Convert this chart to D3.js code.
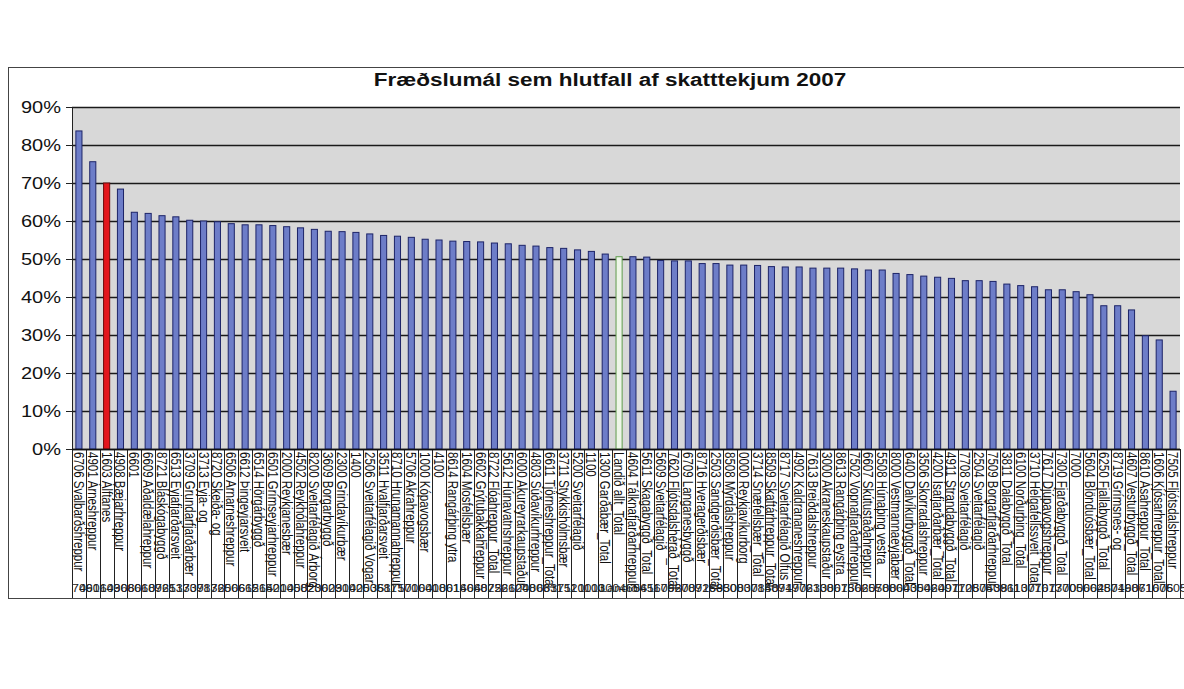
<!DOCTYPE html>
<html>
<head>
<meta charset="UTF-8" />
<script src="https://d3js.org/d3.v7.min.js"></script>
<style>
  body { margin: 0; background: #fff; }
  text { font-family: "Liberation Sans", Arial, sans-serif; fill: #111; }
</style>
</head>
<body>
<script>

var title = "Fræðslumál sem hlutfall af skatttekjum 2007";

var categories = [
  "6706 Svalbarðshreppur", "4901 Árneshreppur", "1603 Álftanes", "4908 Bæjarhreppur",
  "6601", "6609 Aðaldælahreppur", "8721 Bláskógabyggð", "6513 Eyjafjarðarsveit",
  "3709 Grundarfjarðarbær", "3713 Eyja- og", "8720 Skeiða- og",
  "6506 Arnarneshreppur", "6612 Þingeyjarsveit", "6514 Hörgárbyggð", "6501 Grímseyjarhreppur",
  "2000 Reykjanesbær", "4502 Reykhólahreppur", "8200 Sveitarfélagið Árborg", "3609 Borgarbyggð",
  "2300 Grindavíkurbær", "1400", "2506 Sveitarfélagið Vogar", "3511 Hvalfjarðarsveit",
  "8710 Hrunamannahreppur", "5706 Akrahreppur", "1000 Kópavogsbær", "4100",
  "8614 Rangárþing ytra", "1604 Mosfellsbær", "6602 Grýtubakkahreppur", "8722 Flóahreppur_Total",
  "5612 Húnavatnshreppur", "6000 Akureyrarkaupstaður", "4803 Súðavíkurhreppur",
  "6611 Tjörneshreppur_Total", "3711 Stykkishólmsbær", "5200 Sveitarfélagið",
  "1100", "1300 Garðabær_Total", "Landið allt_Total", "4604 Tálknafjarðarhreppur",
  "5611 Skagabyggð_Total", "5609 Sveitarfélagið", "7620 Fljótsdalshérað_Total",
  "6709 Langanesbyggð", "8716 Hveragerðisbær", "2503 Sandgerðisbær_Total", "8508 Mýrdalshreppur",
  "0000 Reykjavíkurborg", "3714 Snæfellsbær_Total", "8509 Skaftárhreppur_Total",
  "8717 Sveitarfélagið Ölfus", "4902 Kaldrananeshreppur", "7613 Breiðdalshreppur",
  "3000 Akraneskaupstaður", "8613 Rangárþing eystra", "7502 Vopnafjarðarhreppur",
  "6607 Skútustaðahreppur", "5508 Húnaþing vestra", "8000 Vestmannaeyjabær",
  "6400 Dalvíkurbyggð_Total", "3506 Skorradalshreppur", "4200 Ísafjarðarbær_Total",
  "4911 Strandabyggð_Total", "7708 Sveitarfélagið", "2504 Sveitarfélagið",
  "7509 Borgarfjarðarhreppur", "3811 Dalabyggð_Total", "6100 Norðurþing_Total",
  "3710 Helgafellssveit_Total", "7617 Djúpavogshreppur", "7300 Fjarðabyggð_Total", "7000",
  "5604 Blönduósbær_Total", "6250 Fjallabyggð_Total", "8719 Grímsnes- og",
  "4607 Vesturbyggð_Total", "8610 Ásahreppur_Total", "1606 Kjósarhreppur_Total",
  "7505 Fljótsdalshreppur"
];

var values = [
  0.837, 0.756, 0.700, 0.684, 0.623, 0.620, 0.614, 0.611, 0.602, 0.600,
  0.598, 0.593, 0.590, 0.590, 0.588, 0.585, 0.582, 0.578, 0.573, 0.572,
  0.570, 0.566, 0.562, 0.560, 0.557, 0.552, 0.550, 0.547, 0.546, 0.545,
  0.542, 0.540, 0.536, 0.534, 0.530, 0.528, 0.524, 0.520, 0.513, 0.506,
  0.506, 0.505, 0.496, 0.495, 0.495, 0.488, 0.488, 0.484, 0.484, 0.483,
  0.480, 0.479, 0.479, 0.476, 0.476, 0.476, 0.474, 0.471, 0.471, 0.462,
  0.459, 0.455, 0.452, 0.449, 0.443, 0.443, 0.441, 0.434, 0.430, 0.427,
  0.419, 0.419, 0.414, 0.406, 0.377, 0.377, 0.366, 0.298, 0.287, 0.152
];

var yTicks = [0, 0.1, 0.2, 0.3, 0.4, 0.5, 0.6, 0.7, 0.8, 0.9];

// special bars
var highlight = { "1603 Álftanes": "red", "Landið allt_Total": "green" };

var width = 1184, height = 689;
var margin = { top: 107, right: 4, bottom: 240, left: 72 };
var labelBottom = 598;
var stretch = 1.25; // the scan is wider than tall

var svg = d3.select("body").append("svg")
  .attr("width", width)
  .attr("height", height);

// chart border
svg.append("rect")
  .attr("x", 8.5).attr("y", 67.5)
  .attr("width", width - 8).attr("height", labelBottom - 67)
  .attr("fill", "#fff")
  .attr("stroke", "#444");

svg.append("text")
  .attr("transform", "translate(610,86) scale(" + stretch + ",1)")
  .attr("text-anchor", "middle")
  .style("font-size", "18px")
  .style("font-weight", "bold")
  .text(title);

var x = d3.scaleBand()
  .domain(categories)
  .range([margin.left, width - margin.right])
  .paddingInner(0.56)
  .paddingOuter(0.28);

var y = d3.scaleLinear()
  .domain([0, 0.9])
  .range([height - margin.bottom, margin.top]);

// plot background
svg.append("rect")
  .attr("x", margin.left).attr("y", margin.top)
  .attr("width", width - margin.right - margin.left)
  .attr("height", y(0) - margin.top)
  .attr("fill", "#d8d8d8");

// gridlines
svg.append("g")
  .selectAll("line")
  .data(yTicks)
  .enter().append("line")
  .attr("x1", margin.left).attr("x2", width - margin.right)
  .attr("y1", function (d) { return Math.round(y(d)) + 0.5; })
  .attr("y2", function (d) { return Math.round(y(d)) + 0.5; })
  .attr("stroke", "#1a1a1a")
  .attr("stroke-width", 1.3);

// y axis
var yAxis = svg.append("g")
  .attr("transform", "translate(" + margin.left + ",0)")
  .call(d3.axisLeft(y).tickValues(yTicks).tickFormat(d3.format(".0%")).tickSize(6).tickPadding(5));
yAxis.selectAll("line, path").attr("stroke", "#222");
yAxis.selectAll("text")
  .style("font-size", "16px")
  .attr("fill", "#111")
  .attr("transform", function () {
    var tx = +d3.select(this).attr("x");
    return "translate(" + tx + ",0) scale(" + stretch + ",1) translate(" + (-tx) + ",0)";
  });

// bars
svg.append("g")
  .selectAll("rect")
  .data(categories)
  .enter().append("rect")
  .attr("x", function (d) { return x(d); })
  .attr("y", function (d, i) { return y(values[i]); })
  .attr("width", x.bandwidth())
  .attr("height", function (d, i) { return y(0) - y(values[i]); })
  .attr("fill", function (d) {
    if (highlight[d] === "red") return "#e3161c";
    if (highlight[d] === "green") return "#eef6e8";
    return "#6d7dc8";
  })
  .attr("stroke", function (d) {
    if (highlight[d] === "red") return "#6b0a0a";
    if (highlight[d] === "green") return "#5f9c4c";
    return "#1d2468";
  })
  .attr("stroke-width", 1);

// category table below axis
var step = x.step();

svg.append("defs").append("clipPath").attr("id", "labclip")
  .append("rect")
  .attr("x", margin.left).attr("y", y(0))
  .attr("width", width - margin.left).attr("height", labelBottom - y(0));

var table = svg.append("g").attr("clip-path", "url(#labclip)");

table.selectAll("line.sep")
  .data(categories.concat(["end"]))
  .enter().append("line")
  .attr("class", "sep")
  .attr("x1", function (d, i) { return Math.round(margin.left + i * step) + 0.5; })
  .attr("x2", function (d, i) { return Math.round(margin.left + i * step) + 0.5; })
  .attr("y1", y(0)).attr("y2", labelBottom)
  .attr("stroke", "#222");

table.selectAll("text.cat")
  .data(categories)
  .enter().append("text")
  .attr("class", "cat")
  .attr("transform", function (d) {
    var cx = x(d) + x.bandwidth() / 2 - 5;
    return "translate(" + cx + "," + (y(0) + 3) + ") rotate(90) scale(1," + stretch + ")";
  })
  .style("font-size", "11.5px")
  .text(function (d) { return d; });

// outer level row: municipality codes, squeezed together as in the print
table.selectAll("text.code")
  .data(categories)
  .enter().append("text")
  .attr("class", "code")
  .attr("transform", function (d) {
    var cx = x(d) + x.bandwidth() / 2;
    return "translate(" + cx + "," + (labelBottom - 6) + ") scale(" + stretch + ",1)";
  })
  .attr("text-anchor", "middle")
  .style("font-size", "10px")
  .style("fill", "#222")
  .text(function (d) { return d.split(" ")[0]; });

svg.append("line")
  .attr("x1", margin.left).attr("x2", width - margin.right)
  .attr("y1", Math.round(y(0)) + 0.5).attr("y2", Math.round(y(0)) + 0.5)
  .attr("stroke", "#111").attr("stroke-width", 1.5);

</script>
</body>
</html>
